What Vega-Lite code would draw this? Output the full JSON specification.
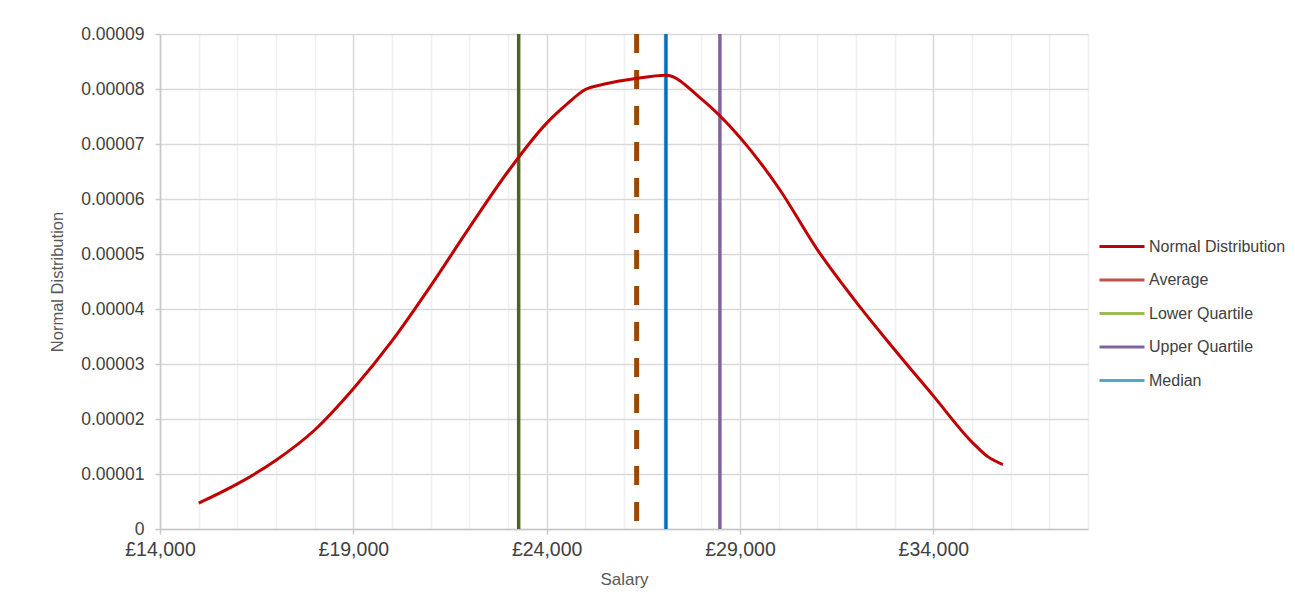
{
  "$schema": "https://vega.github.io/schema/vega-lite/v6.json",
  "width": 928,
  "height": 495,
  "autosize": {"type": "none"},
  "padding": {"left": 160, "top": 34, "right": 207, "bottom": 78},
  "background": "white",
  "datasets": {
    "curve": [
      {"salary": 15000, "density": 0.0000047, "series": "Normal Distribution"},
      {"salary": 16000, "density": 0.0000082, "series": "Normal Distribution"},
      {"salary": 17000, "density": 0.0000125, "series": "Normal Distribution"},
      {"salary": 18000, "density": 0.0000180, "series": "Normal Distribution"},
      {"salary": 19000, "density": 0.0000255, "series": "Normal Distribution"},
      {"salary": 20000, "density": 0.0000342, "series": "Normal Distribution"},
      {"salary": 21000, "density": 0.0000442, "series": "Normal Distribution"},
      {"salary": 22000, "density": 0.0000548, "series": "Normal Distribution"},
      {"salary": 23000, "density": 0.0000650, "series": "Normal Distribution"},
      {"salary": 24000, "density": 0.0000738, "series": "Normal Distribution"},
      {"salary": 24500, "density": 0.0000771, "series": "Normal Distribution"},
      {"salary": 25000, "density": 0.0000799, "series": "Normal Distribution"},
      {"salary": 25500, "density": 0.0000809, "series": "Normal Distribution"},
      {"salary": 26300, "density": 0.0000819, "series": "Normal Distribution"},
      {"salary": 27085, "density": 0.0000825, "series": "Normal Distribution"},
      {"salary": 28000, "density": 0.0000782, "series": "Normal Distribution"},
      {"salary": 29000, "density": 0.0000712, "series": "Normal Distribution"},
      {"salary": 30000, "density": 0.0000620, "series": "Normal Distribution"},
      {"salary": 31000, "density": 0.0000508, "series": "Normal Distribution"},
      {"salary": 32000, "density": 0.0000413, "series": "Normal Distribution"},
      {"salary": 33000, "density": 0.0000326, "series": "Normal Distribution"},
      {"salary": 34000, "density": 0.0000242, "series": "Normal Distribution"},
      {"salary": 35000, "density": 0.0000158, "series": "Normal Distribution"},
      {"salary": 35400, "density": 0.0000132, "series": "Normal Distribution"},
      {"salary": 35800, "density": 0.0000117, "series": "Normal Distribution"}
    ],
    "stats": [
      {"series": "Average", "salary": 26327},
      {"series": "Lower Quartile", "salary": 23276},
      {"series": "Upper Quartile", "salary": 28480},
      {"series": "Median", "salary": 27085}
    ]
  },
  "encoding": {
    "x": {
      "field": "salary",
      "type": "quantitative",
      "title": "Salary",
      "scale": {"domain": [14000, 38000], "nice": false, "zero": false},
      "axis": {
        "values": [14000, 15000, 16000, 17000, 18000, 19000, 20000, 21000, 22000, 23000, 24000, 25000, 26000, 27000, 28000, 29000, 30000, 31000, 32000, 33000, 34000, 35000, 36000, 37000, 38000],
        "labelExpr": "(datum.value - 14000) % 5000 === 0 ? '£' + format(datum.value, ',') : ''",
        "gridColor": {"condition": {"test": "(datum.value - 14000) % 5000 === 0", "value": "#D9D9D9"}, "value": "#F0F0F0"},
        "tickOpacity": {"condition": {"test": "(datum.value - 14000) % 5000 === 0", "value": 1}, "value": 0},
        "gridWidth": 1.5,
        "tickSize": 5,
        "labelPadding": 6,
        "labelFontSize": 19.5,
        "labelFlush": false,
        "labelOverlap": false,
        "titleFontSize": 17,
        "titlePadding": 13
      }
    }
  },
  "layer": [
    {
      "data": {"name": "stats"},
      "transform": [{"filter": "datum.series === 'Lower Quartile'"}],
      "mark": {"type": "rule", "color": "#4F6228", "strokeWidth": 3.5},
      "encoding": {}
    },
    {
      "data": {"name": "stats"},
      "transform": [{"filter": "datum.series === 'Average'"}],
      "mark": {"type": "rule", "color": "#984807", "strokeWidth": 5, "strokeDash": [19, 17]},
      "encoding": {}
    },
    {
      "data": {"name": "stats"},
      "transform": [{"filter": "datum.series === 'Median'"}],
      "mark": {"type": "rule", "color": "#0070C0", "strokeWidth": 3.5},
      "encoding": {}
    },
    {
      "data": {"name": "stats"},
      "transform": [{"filter": "datum.series === 'Upper Quartile'"}],
      "mark": {"type": "rule", "color": "#8064A2", "strokeWidth": 3.5},
      "encoding": {}
    },
    {
      "data": {"name": "stats"},
      "mark": {"type": "rule", "opacity": 0},
      "encoding": {
        "color": {"field": "series", "type": "nominal"}
      }
    },
    {
      "data": {"name": "curve"},
      "mark": {"type": "line", "interpolate": "monotone", "strokeWidth": 3, "strokeJoin": "round"},
      "encoding": {
        "y": {
          "field": "density",
          "type": "quantitative",
          "title": "Normal Distribution",
          "scale": {"domain": [0, 0.00009], "nice": false},
          "axis": {
            "values": [0, 0.00001, 0.00002, 0.00003, 0.00004, 0.00005, 0.00006, 0.00007, 0.00008, 0.00009],
            "labelExpr": "datum.value === 0 ? '0' : format(datum.value, '.5f')",
            "gridColor": "#D9D9D9",
            "gridWidth": 1.5,
            "tickSize": 5,
            "labelPadding": 11,
            "labelFontSize": 17.5,
            "titleFontSize": 16.5,
            "titlePadding": 15
          }
        },
        "color": {
          "field": "series",
          "type": "nominal",
          "scale": {
            "domain": ["Normal Distribution", "Average", "Lower Quartile", "Upper Quartile", "Median"],
            "range": ["#C00000", "#C0504D", "#9BBB59", "#8064A2", "#4BACC6"]
          },
          "legend": {
            "title": null,
            "orient": "none",
            "legendX": 938,
            "legendY": 202.5,
            "symbolType": "stroke",
            "symbolSize": 2025,
            "symbolStrokeWidth": 3,
            "symbolOpacity": 1,
            "clipHeight": 20,
            "rowPadding": 13.5,
            "labelOffset": 3,
            "labelFontSize": 16,
            "labelColor": "#404040",
            "labelFont": "Liberation Sans"
          }
        }
      }
    }
  ],
  "config": {
    "font": "Liberation Sans",
    "view": {"stroke": null},
    "axis": {
      "domainColor": "#C8C8C8",
      "domainWidth": 1.5,
      "tickColor": "#C8C8C8",
      "tickWidth": 1.5,
      "labelColor": "#404040",
      "labelFont": "Liberation Sans",
      "titleColor": "#595959",
      "titleFont": "Liberation Sans",
      "titleFontWeight": "normal"
    }
  }
}
